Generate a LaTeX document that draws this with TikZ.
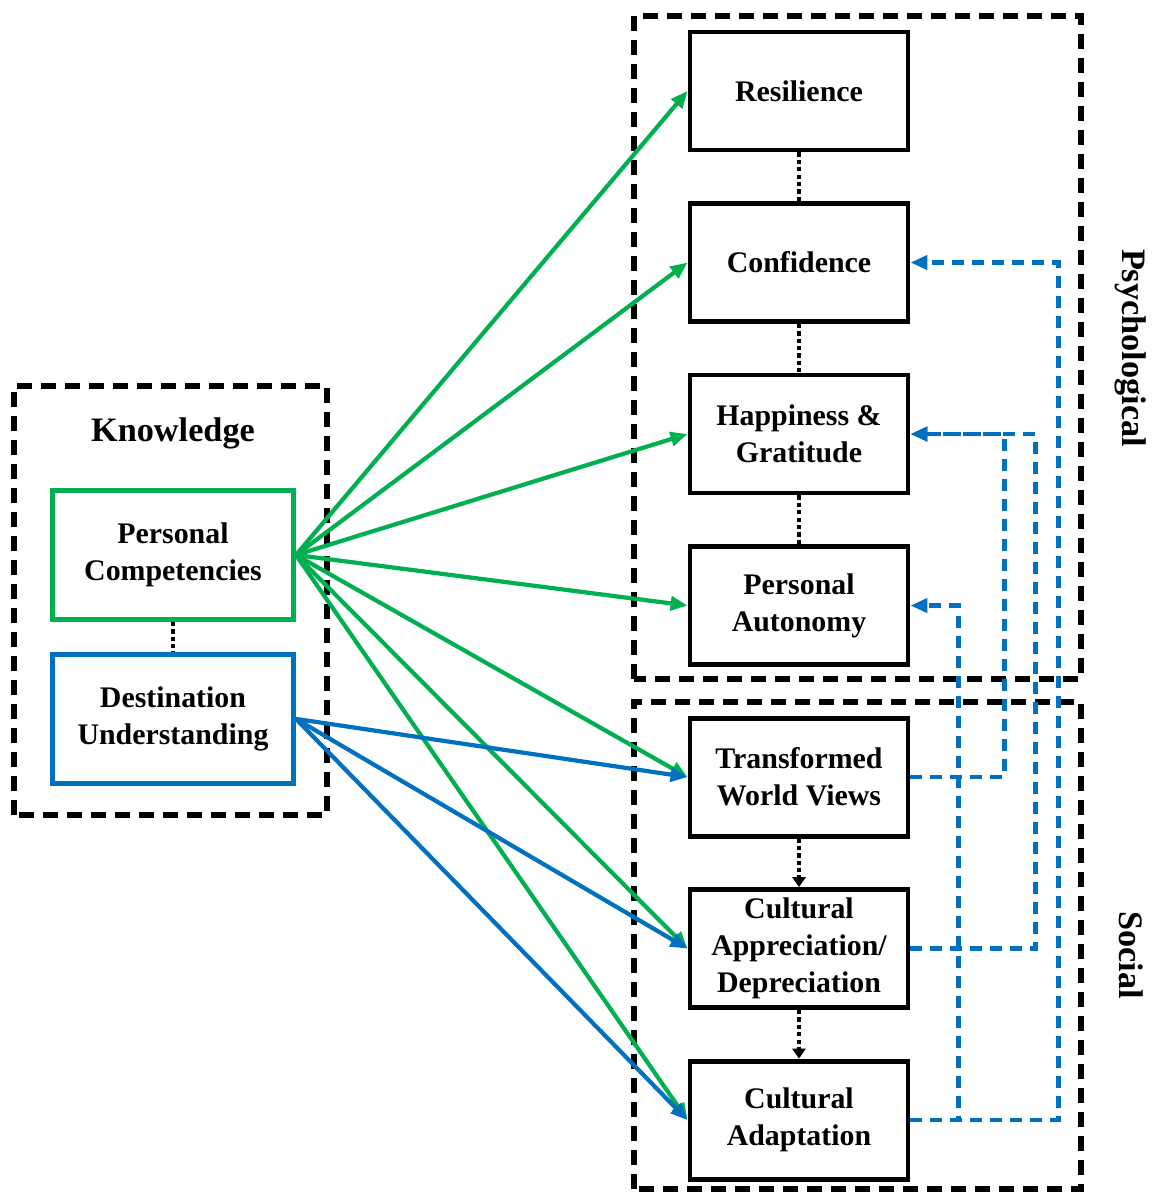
\documentclass[tikz,border=0pt]{standalone}
\usepackage{fontspec}
\setmainfont{Liberation Serif}
\usepackage{tikz}
\usetikzlibrary{positioning,arrows.meta}
\definecolor{kgreen}{RGB}{0,176,80}
\definecolor{kblue}{RGB}{0,112,192}

\begin{document}
\begin{tikzpicture}[
		node distance=0.972cm,  % 右侧方框间距
		box/.style={rectangle, draw, line width=2.8pt, minimum width=4.36cm, minimum height=2.36cm, text centered, align=center, font=\fontsize{17}{21}\selectfont\bfseries},
		kbox/.style={rectangle, draw, line width=2.8pt, minimum width=4.82cm, minimum height=2.58cm, text centered, align=center, font=\fontsize{17}{21}\selectfont\bfseries},
		grp/.style={draw, line width=3pt, dash pattern=on 0.3cm off 0.18cm},
		title/.style={font=\fontsize{19.5}{23}\selectfont\bfseries},
		garrow/.style={-{Triangle[length=0.34cm, width=0.28cm]}, kgreen, line width=2.4pt},
		barrow/.style={-{Triangle[length=0.34cm, width=0.28cm]}, kblue, line width=2.4pt},
		dotline/.style={line width=2.8pt, dash pattern=on 2.4pt off 1.8pt},
		dotarrow/.style={dotline, -{Triangle[length=0.2cm, width=0.26cm]}},
		fback/.style={-{Triangle[length=0.34cm, width=0.28cm]}, kblue, line width=2.6pt, dash pattern=on 0.24cm off 0.16cm}
		]
		\useasboundingbox (0,0) rectangle (23.1,23.86);
		% 右侧方框 - 从上到下
		\node[box] (resil) at (15.98,22.04) {Resilience};
		\node[box, below=of resil] (conf) {Confidence};
		\node[box, below=of conf] (happy) {Happiness \&\\Gratitude};
		\node[box, below=of happy] (auton) {Personal\\Autonomy};
		\node[box, below=of auton] (trans) {Transformed\\World Views};
		\node[box, below=of trans] (capp) {Cultural\\Appreciation/\\Depreciation};
		\node[box, below=of capp] (adapt) {Cultural\\Adaptation};
		% 左侧知识方框
		\node[title] (know) at (3.46,15.2) {Knowledge};
		\node[kbox, draw=kgreen] (pc) at (3.46,12.76) {Personal\\Competencies};
		\node[kbox, draw=kblue, below=0.6cm of pc] (du) {Destination\\Understanding};
		% 虚线分组框
		\draw[grp] (0.28,7.56) rectangle (6.54,16.14);
		\draw[grp] (12.68,10.28) rectangle (21.62,23.54);
		\draw[grp] (12.68,0.08) rectangle (21.62,9.82);
		\node[title, rotate=-90] (psy) at (22.62,16.9) {Psychological};
		\node[title, rotate=-90] (soc) at (22.62,4.76) {Social};
		% 点线连接
		\draw[dotline] (pc) -- (du);
		\draw[dotline] (resil) -- (conf);
		\draw[dotline] (conf) -- (happy);
		\draw[dotline] (happy) -- (auton);
		\draw[dotarrow] (trans) -- (capp);
		\draw[dotarrow] (capp) -- (adapt);
		% 绿色箭头
		\draw[garrow] (pc.east) -- (resil.west);
		\draw[garrow] (pc.east) -- (conf.west);
		\draw[garrow] (pc.east) -- (happy.west);
		\draw[garrow] (pc.east) -- (auton.west);
		\draw[garrow] (pc.east) -- (trans.west);
		\draw[garrow] (pc.east) -- (capp.west);
		\draw[garrow] (pc.east) -- (adapt.west);
		% 蓝色箭头
		\draw[barrow] (du.east) -- (trans.west);
		\draw[barrow] (du.east) -- (capp.west);
		\draw[barrow] (du.east) -- (adapt.west);
		% 右侧反馈虚线
		\draw[fback] (adapt.east) -- ++(2.96,0) |- (conf.east);
		\draw[fback] (adapt.east) -- ++(0.96,0) |- (auton.east);
		\draw[fback] (trans.east) -- ++(1.88,0) |- (happy.east);
		\draw[fback] (capp.east) -- ++(2.5,0) |- (happy.east);
	\end{tikzpicture}
\end{document}
